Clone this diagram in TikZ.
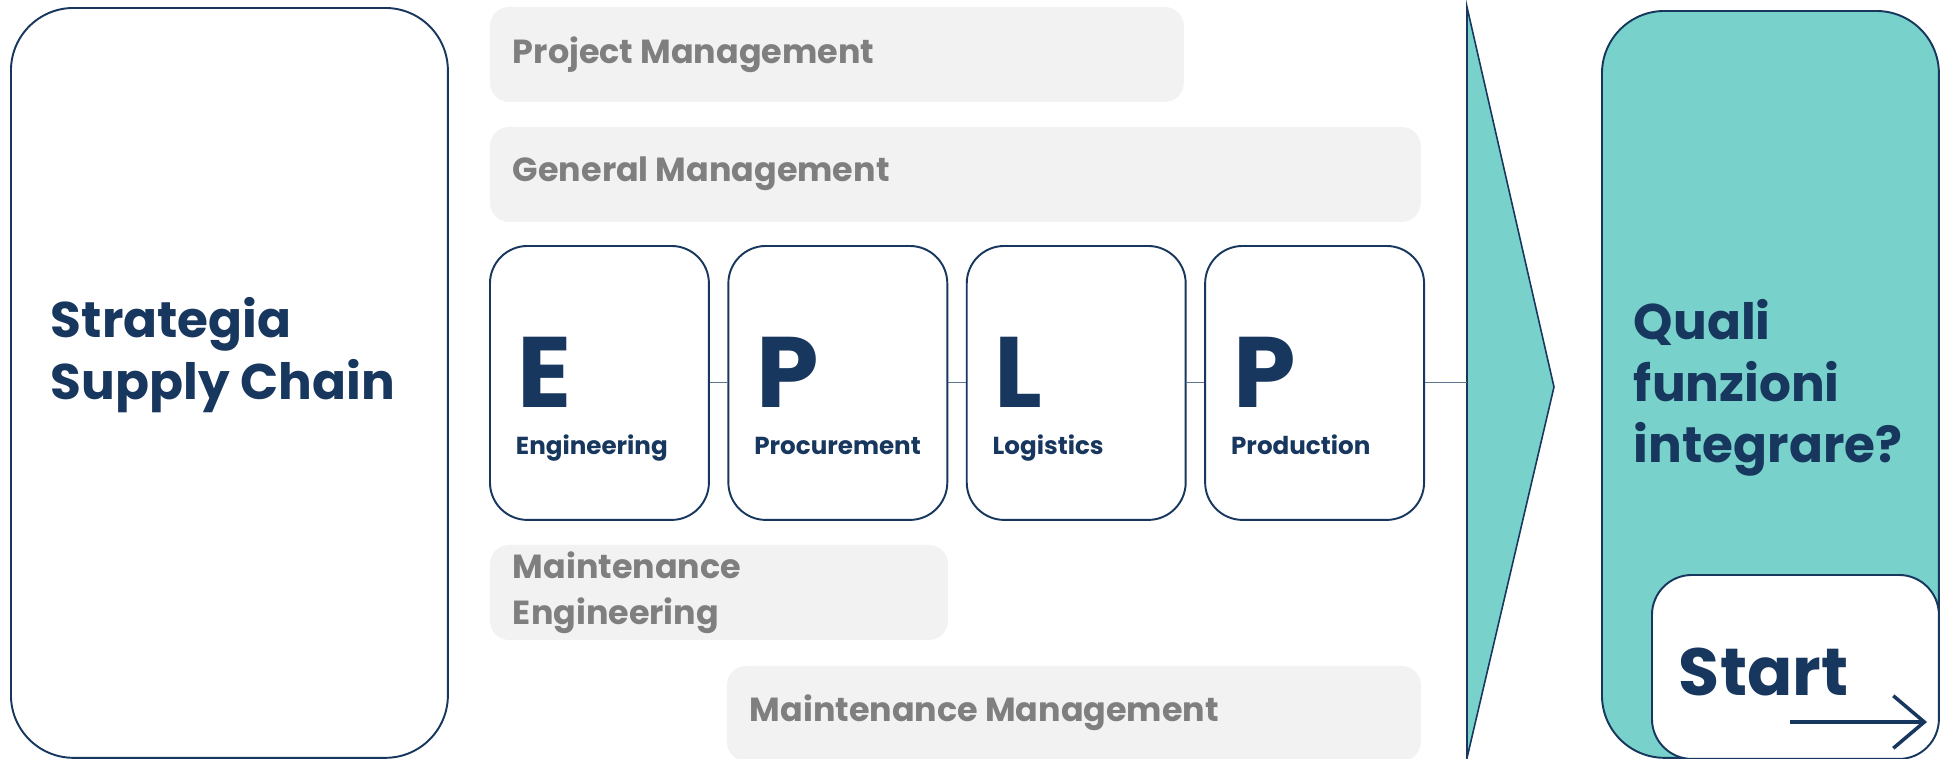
\documentclass[tikz,border=0pt]{standalone}
\usepackage{fontspec}
\setmainfont{Poppins}
\usepackage{tikz}
\usetikzlibrary{positioning,arrows.meta}
\definecolor{navy}{HTML}{17375E}
\definecolor{teal}{HTML}{78D1CA}
\definecolor{barbg}{HTML}{F2F2F2}
\definecolor{bartext}{HTML}{7F7F7F}

\begin{document}
\begin{tikzpicture}[x=0.02cm, y=-0.02cm, line width=1.1pt,
    bigbox/.style={rectangle, draw=navy, rounded corners=1.25cm,
      anchor=north west, inner sep=0},
    fbox/.style={rectangle, draw=navy, fill=white, rounded corners=0.75cm,
      minimum width=4.38cm, minimum height=5.48cm, inner sep=0},
    bar/.style={rectangle, fill=barbg, rounded corners=0.38cm,
      anchor=north west, inner sep=0, minimum height=1.9cm},
    bartxt/.style={text=bartext, font=\fontsize{19}{26}\selectfont\bfseries,
      anchor=west, align=left, inner sep=0},
    bigl/.style={text=navy, font=\fontsize{57}{57}\selectfont\bfseries,
      anchor=base west, inner sep=0},
    smalll/.style={text=navy, font=\fontsize{14}{14}\selectfont\bfseries,
      anchor=base west, inner sep=0},
    title/.style={text=navy, font=\fontsize{28.5}{35}\selectfont\bfseries,
      anchor=west, align=left, inner sep=0},
    link/.style={draw=navy!70, line width=0.6pt}
    ]
    \clip (0,0) rectangle (1952,758);

    % left block
    \node[bigbox, minimum width=8.74cm, minimum height=15cm] (strat) at (10,7) {};
    \node[title] (stratT) at (50,355) {Strategia\\Supply Chain};

    % grey bars
    \node[bar, minimum width=13.88cm] (pm) at (489,6) {};
    \node[bartxt] (pmT) at (512,55) {Project Management};
    \node[bar, minimum width=18.62cm] (gm) at (489,126) {};
    \node[bartxt] (gmT) at (512,174) {General Management};
    \node[bar, minimum width=9.16cm] (me) at (489,544) {};
    \node[bartxt] (meT) at (512,593) {Maintenance\\Engineering};
    \node[bar, minimum width=13.88cm] (mm) at (726,665) {};
    \node[bartxt] (mmT) at (749,713) {Maintenance Management};

    % EPLP
    \node[fbox, anchor=north west] (eng) at (489,245) {};
    \node[fbox, right=0.35cm of eng] (proc) {};
    \node[fbox, right=0.35cm of proc] (logi) {};
    \node[fbox, right=0.35cm of logi] (prod) {};
    \node[bigl] (engL) at ([shift={(28,25)}]eng.west) {E};
    \node[smalll] (engS) at ([shift={(26,72)}]eng.west) {Engineering};
    \node[bigl] (procL) at ([shift={(28,25)}]proc.west) {P};
    \node[smalll] (procS) at ([shift={(26,72)}]proc.west) {Procurement};
    \node[bigl] (logiL) at ([shift={(28,25)}]logi.west) {L};
    \node[smalll] (logiS) at ([shift={(26,72)}]logi.west) {Logistics};
    \node[bigl] (prodL) at ([shift={(28,25)}]prod.west) {P};
    \node[smalll] (prodS) at ([shift={(26,72)}]prod.west) {Production};

    % chevron
    \coordinate (chevL) at (1467,387);
    \draw[draw=navy, fill=teal, line width=0.9pt] (1467,7) -- (1554,387) -- (1467,758) -- cycle;
    \draw[link] (eng) -- (proc);
    \draw[link] (proc) -- (logi);
    \draw[link] (logi) -- (prod);
    \draw[link] (prod) -- (prod -| chevL);

    % right block
    \node[bigbox, fill=teal, minimum width=6.74cm, minimum height=14.94cm] (quali) at (1601,10) {};
    \node[title] (qualiT) at (1633,388) {Quali\\funzioni\\integrare?};
    \node[bigbox, fill=white, rounded corners=0.8cm, minimum width=5.74cm,
      minimum height=3.68cm] (start) at (1651,574) {};
    \node[text=navy, font=\fontsize{38}{38}\selectfont\bfseries, anchor=west,
      inner sep=0] (startT) at (1678,672) {Start};
    \coordinate (arrA) at (1790,722);
    \coordinate (arrB) at (1927,722);
    \draw[navy, line width=2pt, -{Straight Barb[length=0.62cm, width=1.05cm]}] (arrA) -- (arrB);
\end{tikzpicture}
\end{document}
